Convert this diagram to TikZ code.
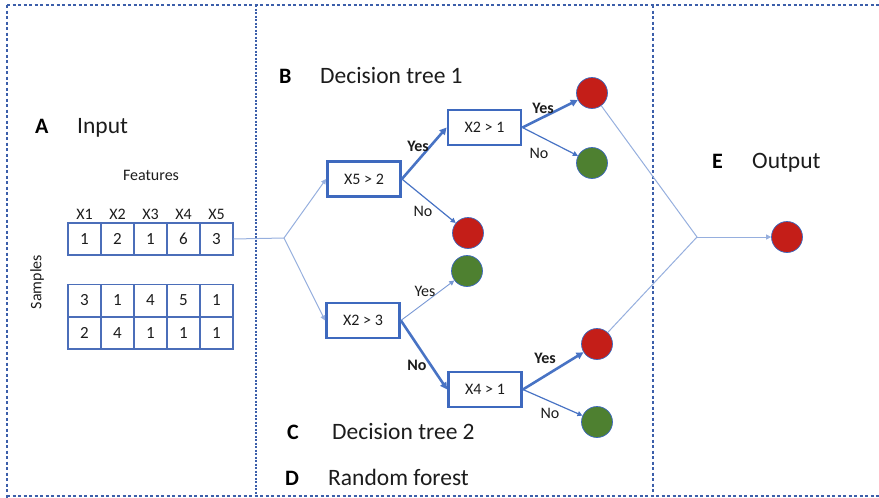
\documentclass[tikz,border=0pt]{standalone}
\usepackage{fontspec}
\setmainfont{Carlito}
\usetikzlibrary{arrows.meta}
\definecolor{frameblue}{RGB}{60,95,170}
\definecolor{boxblue}{RGB}{62,105,190}
\definecolor{cellblue}{RGB}{75,110,185}
\definecolor{lightblue}{RGB}{150,175,222}
\definecolor{arrowblue}{RGB}{72,115,196}
\definecolor{leafred}{RGB}{196,30,24}
\definecolor{leafgreen}{RGB}{78,128,48}
\definecolor{textgray}{RGB}{28,28,28}
\begin{document}
\begin{tikzpicture}[x=1pt,y=-1pt,
  cell/.style={draw=cellblue,line width=1.2pt,minimum width=33pt,minimum height=32pt,inner sep=0pt,font=\fontsize{17}{17}\selectfont,text=textgray},
  cond/.style={draw=boxblue,line width=2.8pt,minimum width=73pt,minimum height=35pt,inner sep=0pt,font=\fontsize{16}{16}\selectfont,text=textgray},
  leaf/.style={circle,draw=boxblue,line width=0.7pt,minimum size=31pt,inner sep=0pt},
  redleaf/.style={leaf,fill=leafred},
  greenleaf/.style={leaf,fill=leafgreen},
  title/.style={anchor=base west,font=\fontsize{23.5}{23.5}\selectfont,text=textgray,inner sep=0pt},
  letter/.style={anchor=base west,font=\fontsize{22}{22}\selectfont\bfseries,text=black,inner sep=0pt},
  small/.style={font=\fontsize{16}{16}\selectfont,text=textgray,inner sep=0pt},
  yeslbl/.style={font=\fontsize{16}{16}\selectfont\bfseries,text=textgray,inner sep=0pt},
  nolbl/.style={font=\fontsize{16}{16}\selectfont,text=textgray,inner sep=0pt},
  frame/.style={draw=frameblue,line width=1.1pt,dash pattern=on 3pt off 2.5pt},
  thick arrow/.style={draw=arrowblue,line width=2.6pt,-{Triangle[length=7pt,width=7pt]}},
  thin arrow/.style={draw=arrowblue,line width=1.2pt,-{Triangle[length=5pt,width=5pt]}},
  light/.style={draw=lightblue,line width=1pt},
  light arrow/.style={light,-{Triangle[length=5pt,width=5pt]}}
]
\useasboundingbox (0,0) rectangle (879,498);

% frames
\draw[frame] (7,5) -- (879,5);
\draw[frame] (7,5) -- (7,498);
\draw[frame] (7,496) -- (879,496);
\draw[frame,line width=1.8pt,dash pattern=on 2pt off 1.5pt] (256,5) -- (256,498);
\draw[frame] (653,5) -- (653,497);

% section titles
\node[letter] (la) at (35,133) {A};
\node[title] (ta) at (77,133) {Input};
\node[letter] (lb) at (279,83) {B};
\node[title] (tb) at (320,83) {Decision tree 1};
\node[letter] (lc) at (287,439) {C};
\node[title] (tc) at (332,439) {Decision tree 2};
\node[letter] (ld) at (285,485) {D};
\node[title] (td) at (328,485) {Random forest};
\node[letter] (le) at (712,168) {E};
\node[title] (te) at (752,168) {Output};

% input table
\node[small,anchor=base] (feat) at (151,180) {Features};
\foreach \i/\t in {1/X1,2/X2,3/X3,4/X4,5/X5}{
  \node[small,anchor=base] (h\i) at ({51.5+33*\i},219) {\t};
}
\node[small,rotate=90] (samples) at (37,282) {Samples};
\foreach \i/\v in {1/1,2/2,3/1,4/6,5/3}{
  \node[cell] (a\i) at ({51.5+33*\i},239) {\v};
}
\foreach \i/\v in {1/3,2/1,3/4,4/5,5/1}{
  \node[cell] (b\i) at ({51.5+33*\i},300.5) {\v};
}
\foreach \i/\v in {1/2,2/4,3/1,4/1,5/1}{
  \node[cell] (c\i) at ({51.5+33*\i},333) {\v};
}

% tree 1
\node[cond] (x52) at (364,179) {X5 > 2};
\node[cond] (x21) at (484.5,127.5) {X2 > 1};
\node[redleaf] (r1) at (592,93) {};
\node[greenleaf] (g1) at (592,163) {};
\node[redleaf] (r2) at (468,233) {};

% tree 2
\node[greenleaf] (g2) at (467,271) {};
\node[cond] (x23) at (363,320.5) {X2 > 3};
\node[cond] (x41) at (485,389.5) {X4 > 1};
\node[redleaf] (r3) at (597,344) {};
\node[greenleaf] (g3) at (597,422) {};

% output
\node[redleaf] (out) at (787,237) {};

% input connectors
\coordinate (split) at (284,238);
\draw[light] (a5.east) -- (split);
\draw[light arrow] (split) -- (x52.west);
\draw[light arrow] (split) -- (x23.west);

% tree 1 connectors
\draw[thick arrow] (x52.east) -- (x21.west);
\draw[thin arrow] (x52.east) -- (r2);
\draw[thick arrow] (x21.east) -- (r1);
\draw[thin arrow] (x21.east) -- (g1);
\node[yeslbl] (y1) at (418,146) {Yes};
\node[nolbl] (n1) at (423,211) {No};
\node[yeslbl] (y2) at (543,108) {Yes};
\node[nolbl] (n2) at (539,153) {No};

% tree 2 connectors
\draw[thin arrow,line width=0.9pt,draw=lightblue!60!arrowblue] (x23.east) -- (g2);
\draw[thick arrow] (x23.east) -- (x41.west);
\draw[thick arrow] (x41.east) -- (r3);
\draw[thin arrow] (x41.east) -- (g3);
\node[nolbl] (y3) at (425,291) {Yes};
\node[yeslbl] (n3) at (417,365) {No};
\node[yeslbl] (y4) at (545,358) {Yes};
\node[nolbl] (n4) at (550,413) {No};

% forest to output
\coordinate (merge) at (697,237);
\draw[light] (r1) -- (merge);
\draw[light] (r3) -- (merge);
\draw[light arrow] (merge) -- (out);
\end{tikzpicture}
\end{document}
